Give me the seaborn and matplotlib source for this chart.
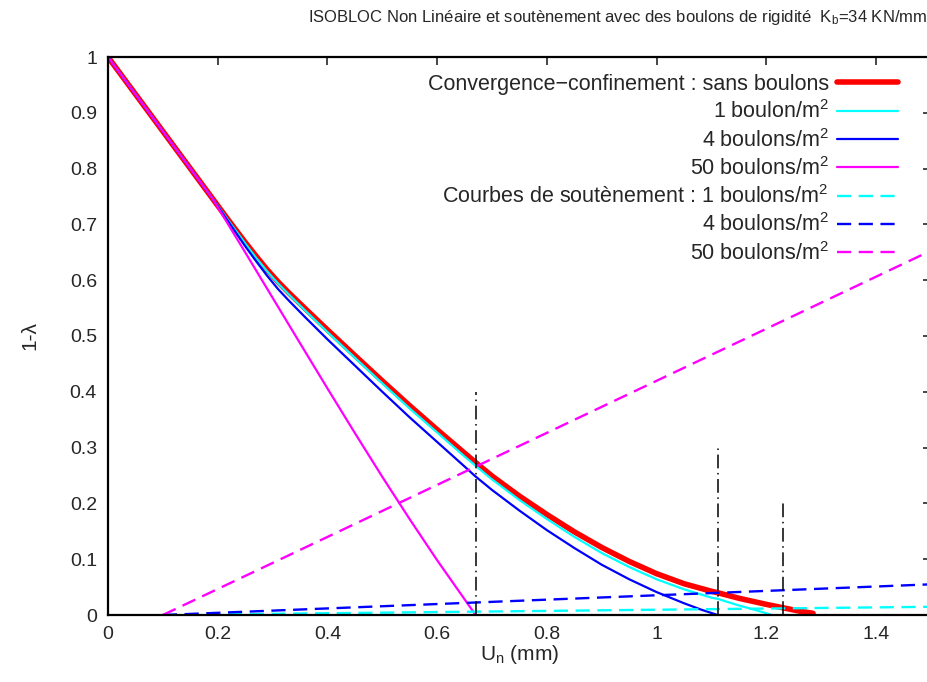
import numpy as np
import pandas as pd
import matplotlib
matplotlib.use("Agg")
import matplotlib.pyplot as plt
import seaborn as sns

# convergence-confinement curves (U_n in mm, 1-lambda)
x_sans = [0.0, 0.19, 0.22, 0.25, 0.27, 0.29, 0.31, 0.33, 0.36, 0.40, 0.45, 0.50, 0.55, 0.60, 0.65, 0.674,
          0.70, 0.75, 0.80, 0.85, 0.90, 0.95, 1.00, 1.05, 1.10, 1.111, 1.15, 1.20, 1.23, 1.26, 1.285]
y_sans = [1.0, 0.747, 0.707, 0.668, 0.643, 0.619, 0.597, 0.577, 0.5485, 0.511, 0.465, 0.4195, 0.375, 0.332, 0.290, 0.270,
          0.249, 0.213, 0.180, 0.149, 0.121, 0.096, 0.074, 0.056, 0.0425, 0.040, 0.030, 0.019, 0.013, 0.007, 0.003]

x_b1 = [0.0, 0.19, 0.22, 0.25, 0.27, 0.29, 0.31, 0.33, 0.36, 0.40, 0.45, 0.50, 0.55, 0.60, 0.65, 0.674,
        0.70, 0.75, 0.80, 0.85, 0.90, 0.95, 1.00, 1.05, 1.10, 1.111, 1.15, 1.18, 1.21]
y_b1 = [1.0, 0.747, 0.706, 0.666, 0.640, 0.616, 0.594, 0.574, 0.545, 0.507, 0.461, 0.415, 0.370, 0.327, 0.284, 0.264,
        0.243, 0.206, 0.172, 0.140, 0.111, 0.086, 0.064, 0.046, 0.031, 0.029, 0.017, 0.009, 0.0]

x_b4 = [0.0, 0.19, 0.22, 0.25, 0.27, 0.29, 0.31, 0.33, 0.36, 0.40, 0.45, 0.50, 0.55, 0.60, 0.65, 0.669,
        0.70, 0.75, 0.80, 0.85, 0.90, 0.95, 1.00, 1.05, 1.08, 1.111]
y_b4 = [1.0, 0.747, 0.704, 0.661, 0.634, 0.608, 0.584, 0.563, 0.533, 0.494, 0.447, 0.400, 0.354, 0.310, 0.266, 0.249,
        0.224, 0.187, 0.152, 0.120, 0.090, 0.064, 0.041, 0.021, 0.010, 0.0]

x_b50 = [0.0, 0.19, 0.25, 0.30, 0.35, 0.40, 0.45, 0.50, 0.55, 0.60, 0.67]
y_b50 = [1.0, 0.747, 0.650, 0.5685, 0.487, 0.406, 0.326, 0.2475, 0.1715, 0.098, 0.0]

# support lines
x_sout = [0.1, 1.5]
y_sout1 = [0.0, 0.0147]
y_sout4 = [0.0, 0.055]
y_sout50 = [0.0, 0.653]

# equilibrium markers
eq_x = [0.67, 1.111, 1.23]
eq_top = [0.4, 0.3, 0.2]

xticks = [0, 0.2, 0.4, 0.6, 0.8, 1, 1.2, 1.4]
xtick_labels = ["0", "0.2", "0.4", "0.6", "0.8", "1", "1.2", "1.4"]
yticks = [0, 0.1, 0.2, 0.3, 0.4, 0.5, 0.6, 0.7, 0.8, 0.9, 1]
ytick_labels = ["0", "0.1", "0.2", "0.3", "0.4", "0.5", "0.6", "0.7", "0.8", "0.9", "1"]

sns.set_style("white")
plt.rcParams['font.family'] = ['Liberation Sans', 'DejaVu Sans']
plt.rcParams['mathtext.fontset'] = 'custom'
plt.rcParams['mathtext.rm'] = 'Liberation Sans'
plt.rcParams['mathtext.it'] = 'Liberation Sans'

fig = plt.figure(figsize=(9.28, 6.82), dpi=100)
ax = fig.add_axes([108 / 928, 67 / 682, 823 / 928, 558 / 682])

sns.lineplot(x=x_sans, y=y_sans, ax=ax, color="#ff0000", lw=4.0, sort=False,
             label="Convergence\u2212confinement : sans boulons")
sns.lineplot(x=x_b1, y=y_b1, ax=ax, color="#00ffff", lw=1.6, sort=False,
             label="1 boulon/m$^{2}$")
sns.lineplot(x=x_b4, y=y_b4, ax=ax, color="#0000ff", lw=1.6, sort=False,
             label="4 boulons/m$^{2}$")
sns.lineplot(x=x_b50, y=y_b50, ax=ax, color="#ff00ff", lw=1.6, sort=False,
             label="50 boulons/m$^{2}$")

dash = (0, (6, 3.2))
sns.lineplot(x=x_sout, y=y_sout1, ax=ax, color="#00ffff", lw=1.7, linestyle=dash,
             label="Courbes de sout\u00e8nement : 1 boulons/m$^{2}$")
sns.lineplot(x=x_sout, y=y_sout4, ax=ax, color="#0000ff", lw=1.7, linestyle=dash,
             label="4 boulons/m$^{2}$")
sns.lineplot(x=x_sout, y=y_sout50, ax=ax, color="#ff00ff", lw=1.7, linestyle=dash,
             label="50 boulons/m$^{2}$")

for xv, yt in zip(eq_x, eq_top):
    ax.plot([xv, xv], [0, yt], color="black", lw=1.1, linestyle=(0, (9, 3, 1, 3)))

ax.set_xlim(0, 1.5)
ax.set_ylim(0, 1)
ax.set_xticks(xticks)
ax.set_xticklabels(xtick_labels)
ax.set_yticks(yticks)
ax.set_yticklabels(ytick_labels)
ax.tick_params(direction="in", length=6, width=1.2, labelsize=14, pad=8,
               top=True, right=True)
for s in ax.spines.values():
    s.set_linewidth(1.6)
    s.set_color("black")

ax.set_xlabel("U$_\\mathrm{n}$ (mm)", fontsize=15, labelpad=0)
ax.set_ylabel("1-\u03bb", fontsize=15, labelpad=22)
fig.text(0.666, 0.975, "ISOBLOC Non Lin\u00e9aire et sout\u00e8nement avec des boulons de rigidit\u00e9  K$_\\mathrm{b}$=34 KN/mm",
         ha="center", va="center", fontsize=12)

leg = ax.legend(loc="upper right", bbox_to_anchor=(0.970, 0.985), borderaxespad=0,
                frameon=False, markerfirst=False, fontsize=15.5, handlelength=2.8,
                handletextpad=0.4, labelspacing=0.25)
for t in leg.get_texts():
    t.set_ha("right")

fig.savefig("out.png", dpi=100)
